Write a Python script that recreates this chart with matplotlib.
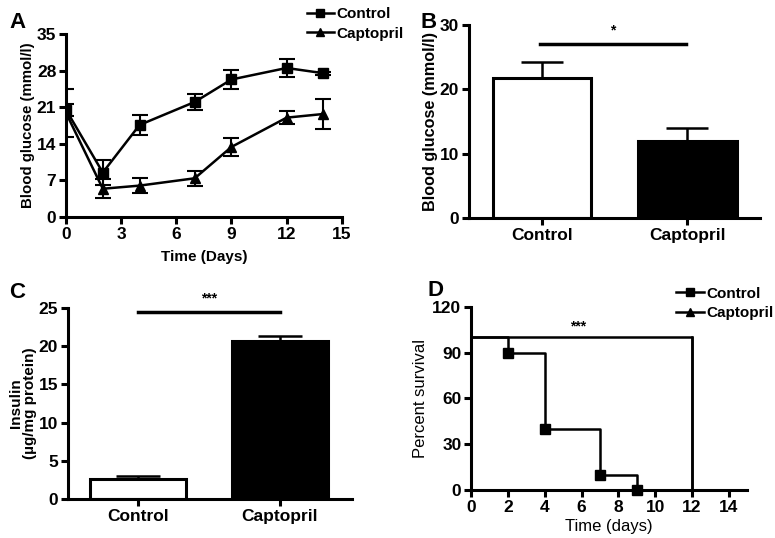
import matplotlib.pyplot as plt
from matplotlib.lines import Line2D

plt.rcParams['font.family'] = ['Liberation Sans', 'DejaVu Sans']
plt.rcParams['font.weight'] = 'bold'
plt.rcParams['axes.labelweight'] = 'bold'

# panel A - blood glucose over time
days = [0, 2, 4, 7, 9, 12, 14]
ctrl_glu = [20.5, 8.5, 17.6, 22.0, 26.3, 28.5, 27.5]
ctrl_glu_err = [1.2, 2.4, 2.0, 1.5, 1.8, 1.7, 0.3]
capt_glu = [19.9, 5.4, 6.0, 7.4, 13.4, 19.0, 19.7]
capt_glu_err = [4.6, 1.8, 1.4, 1.4, 1.8, 1.2, 2.8]

# panel B - mean glucose
groups = ['Control', 'Captopril']
glu_mean = [21.7, 11.9]
glu_err = [2.5, 2.1]

# panel C - insulin
ins_mean = [2.6, 20.7]
ins_err = [0.4, 0.7]

# panel D - survival
ctrl_t = [0, 2, 4, 7, 9]
ctrl_surv = [100, 90, 40, 10, 0]
capt_t = [0, 12]
capt_surv = [100, 0]

fig = plt.figure(figsize=(7.75, 5.38), dpi=100)

lw = 2.2
tick_fs = 12.5


def style(ax):
    for s in ['top', 'right']:
        ax.spines[s].set_visible(False)
    for s in ['left', 'bottom']:
        ax.spines[s].set_linewidth(lw)
    ax.tick_params(width=lw, length=5, labelsize=tick_fs, direction='out', pad=2)
    for t in ax.get_xticklabels() + ax.get_yticklabels():
        t.set_fontweight('bold')


# A
axA = fig.add_axes([0.0852, 0.5967, 0.3558, 0.3401])
axA.errorbar(days, ctrl_glu, yerr=ctrl_glu_err, color='black', marker='s', ms=7,
             lw=1.8, capsize=5.5, elinewidth=1.5, capthick=1.5, label='Control')
axA.errorbar(days, capt_glu, yerr=capt_glu_err, color='black', marker='^', ms=7,
             lw=1.8, capsize=5.5, elinewidth=1.5, capthick=1.5, label='Captopril')
axA.set_xlim(0, 15)
axA.set_ylim(0, 35)
axA.set_xticks([0, 3, 6, 9, 12, 15])
axA.set_yticks([0, 7, 14, 21, 28, 35])
axA.set_xlabel('Time (Days)', fontsize=11, labelpad=6)
axA.set_ylabel('Blood glucose (mmol/l)', fontsize=10.8, labelpad=1)
style(axA)
hA = [Line2D([], [], color='black', marker='s', ms=6, lw=1.8),
      Line2D([], [], color='black', marker='^', ms=6, lw=1.8)]
fig.legend(hA, groups, loc='upper left', bbox_to_anchor=(0.378, 1.012), frameon=False,
           prop={'weight': 'bold', 'size': 11}, handlelength=1.8, handletextpad=0.15,
           labelspacing=0.35)

# B
axB = fig.add_axes([0.605, 0.5948, 0.376, 0.3587])
axB.bar([0, 1], glu_mean, width=0.68, color=['white', 'black'], edgecolor='black', linewidth=lw)
axB.errorbar([0, 1], glu_mean, yerr=[[0, 0], glu_err], fmt='none', ecolor='black',
             capsize=15, elinewidth=1.8, capthick=1.8)
axB.set_xlim(-0.503, 1.503)
axB.set_ylim(0, 30)
axB.set_yticks([0, 10, 20, 30])
axB.set_xticks([0, 1])
axB.set_xticklabels(groups)
axB.set_ylabel('Blood glucose (mmol/l)', fontsize=11.7, labelpad=1)
axB.plot([-0.01, 0.99], [27.1, 27.1], color='black', lw=2.5)
axB.text(0.49, 28.0, '*', ha='center', va='bottom', fontsize=10)
style(axB)

# C
axC = fig.add_axes([0.0877, 0.0725, 0.3663, 0.355])
axC.bar([0, 1], ins_mean, width=0.676, color=['white', 'black'], edgecolor='black', linewidth=lw)
axC.errorbar([0, 1], ins_mean, yerr=[[0, 0], ins_err], fmt='none', ecolor='black',
             capsize=16, elinewidth=1.8, capthick=1.8)
axC.set_xlim(-0.49, 1.507)
axC.set_ylim(0, 25)
axC.set_yticks([0, 5, 10, 15, 20, 25])
axC.set_xticks([0, 1])
axC.set_xticklabels(groups)
axC.set_ylabel('Insulin\n(µg/mg protein)', fontsize=11, linespacing=1.0, labelpad=1)
axC.plot([0.0, 1.0], [24.5, 24.5], color='black', lw=2.5)
axC.text(0.5, 25.3, '***', ha='center', va='bottom', fontsize=10)
style(axC)

# D
axD = fig.add_axes([0.608, 0.0892, 0.356, 0.3402])
axD.step(ctrl_t, ctrl_surv, where='post', color='black', lw=1.8)
axD.plot(ctrl_t[1:], ctrl_surv[1:], 's', color='black', ms=7, clip_on=False)
axD.step(capt_t, capt_surv, where='post', color='black', lw=1.8)
axD.plot([capt_t[-1], capt_t[-1]], [capt_surv[0], capt_surv[-1]], color='black', lw=1.8)
axD.set_xlim(0, 15)
axD.set_ylim(0, 120)
axD.set_xticks([0, 2, 4, 6, 8, 10, 12, 14])
axD.set_yticks([0, 30, 60, 90, 120])
axD.set_xlabel('Time (days)', fontsize=12, fontweight='normal', labelpad=3)
axD.set_ylabel('Percent survival', fontsize=12, fontweight='normal', labelpad=3)
axD.text(5.8, 107, '***', ha='center', va='center', fontsize=10)
style(axD)
hD = [Line2D([], [], color='black', marker='s', ms=6, lw=1.8),
      Line2D([], [], color='black', marker='^', ms=6, lw=1.8)]
fig.legend(hD, groups, loc='upper left', bbox_to_anchor=(0.855, 0.493), frameon=False,
           prop={'weight': 'bold', 'size': 11}, handlelength=1.8, handletextpad=0.15,
           labelspacing=0.35)

# panel letters
fig.text(0.012, 0.978, 'A', fontsize=16, fontweight='bold', va='top')
fig.text(0.543, 0.978, 'B', fontsize=16, fontweight='bold', va='top')
fig.text(0.012, 0.475, 'C', fontsize=16, fontweight='bold', va='top')
fig.text(0.552, 0.48, 'D', fontsize=16, fontweight='bold', va='top')

fig.savefig('out.png', dpi=100)
